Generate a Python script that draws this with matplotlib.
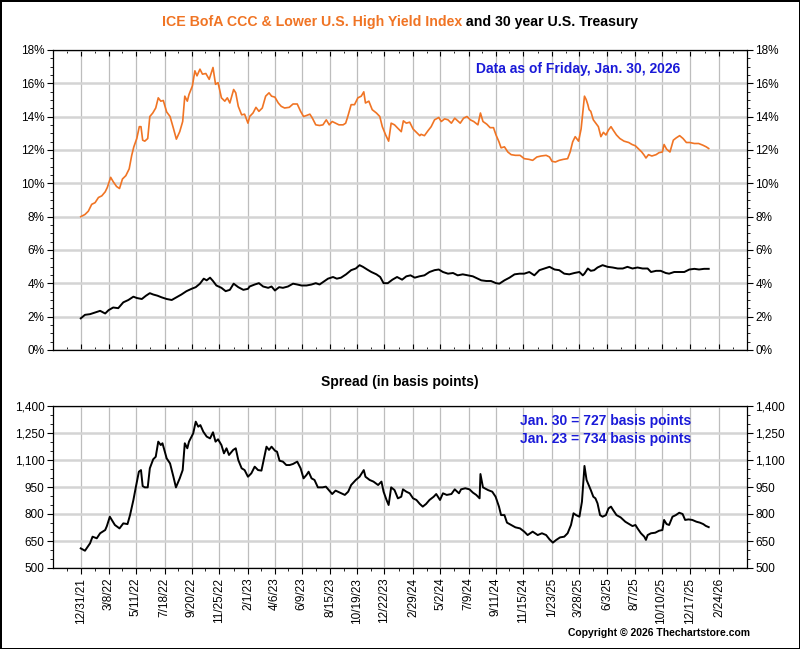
import datetime as dt
import matplotlib
matplotlib.use('Agg')
import matplotlib.pyplot as plt
import matplotlib.dates as mdates
from matplotlib.ticker import FixedLocator, FuncFormatter

plt.rcParams['font.family'] = ['Liberation Sans', 'DejaVu Sans']

start = dt.date(2021, 12, 31)

tick_labels = ['12/31/21', '3/8/22', '5/11/22', '7/18/22', '9/20/22', '11/25/22',
               '2/1/23', '4/6/23', '6/9/23', '8/15/23', '10/19/23', '12/22/23',
               '2/29/24', '5/2/24', '7/9/24', '9/11/24', '11/15/24', '1/23/25',
               '3/28/25', '6/3/25', '8/7/25', '10/10/25', '12/17/25', '2/24/26']

# ICE BofA CCC & Lower yield (%), x = days after 12/31/21
hy_days = [0, 10, 18, 26, 34, 42, 50, 58, 63, 71, 77, 85, 92, 99, 107, 115, 121, 126, 133, 139,
           143, 147, 152, 159, 164, 171, 178, 184, 190, 196, 204, 212, 220, 227, 235, 242, 247, 253, 257, 265,
           271, 276, 283, 289, 297, 305, 314, 320, 326, 334, 342, 348, 354, 363, 368, 374, 382, 389, 397,
           401, 409, 416, 423, 431, 439, 447, 453, 461, 469, 476, 484, 495, 504, 514, 522, 529, 536, 544,
           550, 558, 567, 575, 583, 590, 597, 605, 613, 623, 629, 634, 642, 650, 658, 666, 672, 676, 684,
           692, 702, 710, 716, 724, 731, 737, 745, 753, 761, 766, 773, 781, 789, 797, 805,
           808, 816, 824, 832, 840, 850, 856, 864, 872, 880, 888, 895, 901, 909, 917, 925, 933, 943, 949,
           955, 964, 972, 980, 986, 993, 998, 1006, 1014, 1022, 1032, 1043, 1053, 1064, 1073, 1083, 1093,
           1105, 1113, 1119, 1127, 1136, 1146, 1156, 1162, 1168, 1174, 1182, 1188,
           1196, 1200, 1204, 1207, 1211, 1217, 1223, 1229, 1235, 1241, 1247, 1253, 1259, 1264, 1272, 1280,
           1290, 1301, 1309, 1317, 1325, 1332, 1338, 1342, 1348, 1356, 1366, 1373, 1381, 1385, 1391, 1399,
           1407, 1414, 1422, 1430, 1438, 1446, 1457, 1467, 1477, 1485, 1491]
hy_yield = [8.00, 8.13, 8.33, 8.74, 8.84, 9.15, 9.25, 9.49, 9.75, 10.36, 10.10, 9.81, 9.69, 10.26, 10.46, 10.87, 11.68, 12.19, 12.69, 13.40,
            13.40, 12.59, 12.53, 12.69, 14.01, 14.22, 14.52, 15.13, 14.93, 14.97, 14.28, 14.01, 13.30, 12.65, 13.10, 13.71, 15.23, 14.93, 15.33, 15.84,
            16.75, 16.45, 16.85, 16.55, 16.59, 16.24, 16.95, 15.94, 16.04, 15.13, 14.93, 15.13, 14.82, 15.63, 15.43, 14.62, 14.11, 14.15, 13.61,
            14.01, 14.22, 14.56, 14.32, 14.52, 15.23, 15.43, 15.23, 15.17, 14.82, 14.62, 14.52, 14.56, 14.76, 14.76, 14.32, 14.01, 14.07, 14.15,
            13.91, 13.51, 13.47, 13.51, 13.81, 13.51, 13.71, 13.61, 13.51, 13.51, 13.61, 14.01, 14.72, 14.72, 15.13, 15.23, 15.49, 14.82, 14.93,
            14.42, 14.22, 14.01, 13.40, 12.90, 12.53, 13.61, 13.51, 13.30, 13.10, 13.75, 13.61, 13.67, 13.26, 13.06, 12.86,
            12.94, 12.86, 13.14, 13.40, 13.81, 13.95, 13.71, 13.87, 13.81, 13.61, 13.91, 13.75, 13.61, 13.91, 14.01, 13.81, 13.71, 13.51, 14.22,
            13.71, 13.55, 13.34, 13.34, 12.90, 12.49, 12.13, 12.19, 11.88, 11.72, 11.68, 11.68, 11.48, 11.44, 11.38, 11.58, 11.64,
            11.68, 11.58, 11.32, 11.28, 11.38, 11.44, 11.48, 11.88, 12.49, 12.80, 12.53, 13.26,
            15.23, 15.03, 14.72, 14.42, 14.32, 13.81, 13.61, 13.40, 12.80, 13.06, 12.90, 13.20, 13.40, 13.20, 12.90, 12.69,
            12.53, 12.45, 12.33, 12.25, 12.05, 11.88, 11.68, 11.52, 11.72, 11.64, 11.72, 11.84, 11.88, 12.33, 12.05, 11.88,
            12.59, 12.73, 12.86, 12.69, 12.45, 12.45, 12.39, 12.39, 12.29, 12.19, 12.09]

# 30 year U.S. Treasury yield (%)
tsy_days = [0, 10, 22, 34, 46, 58, 66, 77, 89, 101, 113, 125, 133, 145, 155, 164, 172, 182, 192, 204,
            216, 227, 239, 251, 263, 273, 283, 292, 299, 307, 314, 322, 334, 344, 354, 363, 374, 386, 397,
            401, 413, 423, 433, 445, 453, 461, 471, 480, 492, 504, 514, 524, 536, 548, 558, 567, 579, 587,
            599, 608, 618, 630, 642, 653, 662, 670, 680, 690, 702, 711, 719, 729, 740, 751, 763, 773, 783,
            793, 804, 816, 828, 840, 850, 860, 872, 884, 895, 907, 919, 931, 943, 951, 963, 974, 986, 994,
            1006, 1018, 1030, 1042, 1053, 1065, 1077, 1089, 1101, 1113, 1125, 1136, 1148, 1160, 1172, 1184,
            1192, 1196, 1204, 1211, 1219, 1227, 1239, 1251, 1263, 1275, 1287, 1298, 1310, 1322, 1334, 1346,
            1354, 1366, 1377, 1389, 1397, 1409, 1421, 1433, 1445, 1457, 1468, 1480, 1491]
tsy_yield = [1.90, 2.11, 2.15, 2.25, 2.35, 2.19, 2.39, 2.55, 2.51, 2.86, 3.00, 3.20, 3.12, 3.06, 3.26, 3.41, 3.33, 3.26, 3.16, 3.06,
             3.00, 3.16, 3.33, 3.53, 3.67, 3.77, 3.98, 4.28, 4.18, 4.34, 4.14, 3.87, 3.73, 3.53, 3.61, 3.98, 3.77, 3.61, 3.67,
             3.81, 3.93, 4.01, 3.81, 3.73, 3.81, 3.57, 3.77, 3.73, 3.81, 3.98, 3.93, 3.87, 3.87, 3.93, 4.01, 3.93, 4.14, 4.28,
             4.38, 4.28, 4.34, 4.54, 4.79, 4.89, 5.09, 4.99, 4.83, 4.68, 4.54, 4.38, 4.01, 4.01, 4.22, 4.38, 4.22, 4.42, 4.48,
             4.34, 4.42, 4.48, 4.68, 4.79, 4.83, 4.68, 4.58, 4.62, 4.48, 4.54, 4.48, 4.42, 4.28, 4.18, 4.14, 4.14, 4.01, 3.98,
             4.18, 4.34, 4.54, 4.58, 4.58, 4.68, 4.48, 4.79, 4.89, 4.99, 4.83, 4.79, 4.58, 4.54, 4.62, 4.68,
             4.48, 4.58, 4.89, 4.75, 4.79, 4.95, 5.09, 4.99, 4.95, 4.89, 4.89, 4.99, 4.89, 4.95, 4.89, 4.89,
             4.68, 4.75, 4.75, 4.62, 4.58, 4.68, 4.68, 4.68, 4.83, 4.87, 4.83, 4.87, 4.87]

# spread in basis points
spread_days = [0, 10, 22, 28, 38, 46, 58, 62, 69, 81, 92, 101, 111, 117, 125, 131, 138, 143, 147, 152,
               159, 164, 172, 178, 184, 190, 194, 204, 212, 220, 226, 235, 242, 247, 253, 257, 267, 273, 279, 284,
               291, 299, 307, 314, 320, 326, 334, 340, 346, 352, 362, 368, 374, 382, 389, 397,
               405, 413, 421, 429, 435, 441, 447, 453, 461, 466, 472, 480, 488, 496, 504, 514, 522, 529, 536,
               541, 548, 555, 563, 574, 582, 590, 597, 605, 615, 627, 635, 642, 653, 662, 672, 676, 686, 695,
               706, 714, 719, 726, 731, 737, 745, 753, 761, 765, 773, 781, 789, 797, 805,
               812, 820, 828, 838, 844, 853, 860, 869, 880, 888, 898, 903, 913, 923, 931, 939, 947, 949, 955,
               967, 977, 985, 993, 998, 1006, 1012, 1022, 1032, 1043, 1053, 1061, 1073, 1085, 1095, 1105, 1113,
               1121, 1129, 1138, 1148, 1156, 1164, 1170, 1176, 1184, 1190,
               1196, 1201, 1206, 1211, 1217, 1222, 1227, 1233, 1239, 1247, 1253, 1259, 1264, 1272, 1282, 1293,
               1302, 1310, 1317, 1322, 1330, 1338, 1342, 1346, 1354, 1364, 1373, 1381, 1385, 1391, 1397, 1405,
               1413, 1421, 1429, 1435, 1443, 1452, 1462, 1470, 1478, 1484, 1491]
spread_bp = [609, 596, 637, 674, 665, 693, 711, 733, 785, 739, 720, 748, 744, 794, 878, 952, 1035, 1044, 955, 948,
             948, 1054, 1104, 1118, 1202, 1183, 1193, 1109, 1081, 1007, 948, 998, 1044, 1193, 1165, 1202, 1248, 1313, 1285, 1294,
             1257, 1230, 1220, 1254, 1202, 1215, 1183, 1137, 1165, 1128, 1156, 1165, 1100, 1054, 1044, 1007,
             1026, 1063, 1044, 1041, 1109, 1174, 1156, 1174, 1152, 1146, 1096, 1091, 1072, 1072, 1078, 1091, 1054, 998, 1017,
             1035, 998, 989, 948, 948, 952, 930, 911, 930, 919, 906, 924, 961, 989, 1007, 1044, 1007, 989, 980,
             961, 980, 924, 878, 850, 948, 933, 887, 896, 937, 924, 915, 887, 878, 856,
             841, 856, 878, 896, 911, 878, 915, 906, 911, 937, 915, 937, 943, 937, 919, 906, 887, 1022, 948,
             933, 924, 896, 841, 794, 794, 752, 739, 726, 720, 702, 683, 702, 683, 693, 683, 659,
             641, 656, 670, 674, 693, 739, 804, 794, 785, 868,
             1067, 989, 961, 933, 896, 887, 859, 794, 785, 794, 831, 841, 822, 794, 781, 757,
             744, 733, 739, 720, 693, 674, 656, 683, 693, 696, 707, 711, 767, 744, 739, 785,
             794, 807, 800, 767, 770, 767, 757, 752, 744, 734, 727]


def to_num(days):
    return [mdates.date2num(start + dt.timedelta(days=d)) for d in days]


tick_nums = [mdates.date2num(dt.datetime.strptime(t, '%m/%d/%y')) for t in tick_labels]
step = (tick_nums[-1] - tick_nums[0]) / (len(tick_nums) - 1)
edges = [tick_nums[0] - step] + tick_nums + [tick_nums[-1] + step]
mid_nums = [(a + b) / 2 for a, b in zip(edges[:-1], edges[1:])]
x_lo, x_hi = tick_nums[0] - step, tick_nums[-1] + step

orange = '#f07424'
blue = '#1a1ad8'

fig = plt.figure(figsize=(8, 6.49), dpi=100)
fig.patch.set_edgecolor('black')
fig.patch.set_linewidth(2)

ax1 = fig.add_axes([53 / 800, 1 - 350 / 649, 694 / 800, 300 / 649])
ax2 = fig.add_axes([53 / 800, 1 - 568 / 649, 694 / 800, 162 / 649])


def style(ax, lo, hi, major, minor, fmt):
    ax.set_xlim(x_lo, x_hi)
    ax.set_ylim(lo, hi)
    ax.xaxis.set_major_locator(FixedLocator(tick_nums))
    ax.xaxis.set_minor_locator(FixedLocator(mid_nums))
    n_major = int(round((hi - lo) / major))
    n_minor = int(round((hi - lo) / minor))
    ax.yaxis.set_major_locator(FixedLocator([lo + i * major for i in range(n_major + 1)]))
    ax.yaxis.set_minor_locator(FixedLocator([lo + i * minor for i in range(n_minor + 1)]))
    ax.yaxis.set_major_formatter(FuncFormatter(fmt))
    ax.grid(axis='y', which='major', color='#d4d4d4', lw=1.8)
    ax.grid(axis='x', which='major', color='#bdbdbd', lw=0.9)
    ax.set_axisbelow(True)
    ax.tick_params(axis='y', which='both', left=True, right=True,
                   labelleft=True, labelright=True, direction='out', labelsize=8.5, pad=2)
    ax.tick_params(axis='y', which='major', length=4)
    ax.tick_params(axis='y', which='minor', length=2.5)
    for s in ax.spines.values():
        s.set_color('black')
        s.set_linewidth(0.9)


style(ax1, 0, 18, 2, 0.5, lambda v, p: '%d%%' % round(v))
style(ax2, 500, 1400, 150, 50, lambda v, p: '{:,}'.format(int(round(v))))

ax1.tick_params(axis='x', which='both', top=True, bottom=True, direction='in',
                labelbottom=False)
ax1.tick_params(axis='x', which='major', length=4)
ax1.tick_params(axis='x', which='minor', length=2.5)

ax2.xaxis.set_ticklabels(tick_labels)
ax2.tick_params(axis='x', which='both', direction='out', labelsize=8.5, labelrotation=90, pad=3)
ax2.tick_params(axis='x', which='major', length=4)
ax2.tick_params(axis='x', which='minor', length=2.5)

ax1.plot(to_num(hy_days), hy_yield, color=orange, lw=1.2)
ax1.plot(to_num(tsy_days), tsy_yield, color='black', lw=1.4)
ax2.plot(to_num(spread_days), spread_bp, color='black', lw=1.4)

# title in two colours
fig.text(462 / 800, 1 - 22 / 649, 'ICE BofA CCC & Lower U.S. High Yield Index', color=orange,
         ha='right', va='center', fontsize=10.2, fontweight='bold')
fig.text(462 / 800, 1 - 22 / 649, ' and 30 year U.S. Treasury', color='black',
         ha='left', va='center', fontsize=10.2, fontweight='bold')

fig.text(578 / 800, 1 - 69 / 649, 'Data as of Friday, Jan. 30, 2026', color=blue,
         ha='center', va='center', fontsize=10, fontweight='bold')
fig.text(400 / 800, 1 - 382 / 649, 'Spread (in basis points)', color='black',
         ha='center', va='center', fontsize=10, fontweight='bold')
fig.text(606 / 800, 1 - 421 / 649, 'Jan. 30 = %d basis points' % spread_bp[-1], color=blue,
         ha='center', va='center', fontsize=10, fontweight='bold')
fig.text(606 / 800, 1 - 439 / 649, 'Jan. 23 = %d basis points' % spread_bp[-2], color=blue,
         ha='center', va='center', fontsize=10, fontweight='bold')
fig.text(750 / 800, 1 - 633 / 649, 'Copyright \u00a9 2026 Thechartstore.com', color='black',
         ha='right', va='center', fontsize=7.5, fontweight='bold')

fig.savefig('out.png', dpi=100)
